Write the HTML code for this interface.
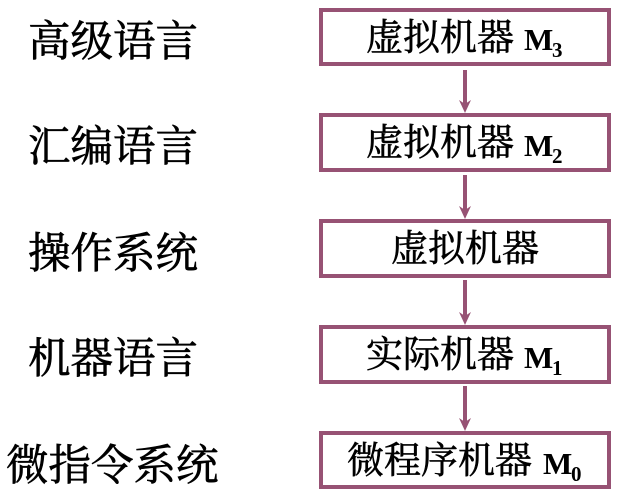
<!DOCTYPE html>
<html><head><meta charset="utf-8"><style>
html,body{margin:0;padding:0;background:#fff}
svg{display:block}
text{font-family:"Liberation Serif","Noto Serif CJK SC",serif;fill:#000}
.l{font-size:42.5px;stroke:#000;stroke-width:.7px}
.b{font-size:37px;stroke:#000;stroke-width:.6px}
.m{font-size:31px;font-weight:bold}
.s{font-size:21px;font-weight:bold}
rect{fill:#fff;stroke:#975274;stroke-width:4}
path{stroke:#975274;stroke-width:4;fill:none}
polygon{fill:#975274}
</style></head><body>
<svg width="618" height="501" viewBox="0 0 618 501" xmlns="http://www.w3.org/2000/svg">
<rect x="321" y="10" width="288" height="54"/>
<rect x="321" y="115" width="288" height="55"/>
<rect x="321" y="221" width="288" height="55"/>
<rect x="321" y="327" width="288" height="55"/>
<rect x="321" y="433" width="288" height="54"/>
<path d="M465 70V106"/><polygon points="459,100 465,104 471,100 465,113"/>
<path d="M465 175V212"/><polygon points="459,206 465,210 471,206 465,219"/>
<path d="M465 280V318"/><polygon points="459,312 465,316 471,312 465,325"/>
<path d="M465 386V424"/><polygon points="459,418 465,422 471,418 465,431"/>
<text class="l" x="28" y="56">高级语言</text>
<text class="l" x="28" y="161">汇编语言</text>
<text class="l" x="28" y="268">操作系统</text>
<text class="l" x="28" y="373">机器语言</text>
<text class="l" x="6" y="480">微指令系统</text>
<text class="b" x="366" y="50">虚拟机器</text><text class="m" x="524" y="50">M</text><text class="s" x="552" y="57">3</text>
<text class="b" x="366" y="155">虚拟机器</text><text class="m" x="524" y="156">M</text><text class="s" x="552" y="163">2</text>
<text class="b" x="391" y="261">虚拟机器</text>
<text class="b" x="366" y="367">实际机器</text><text class="m" x="524" y="368">M</text><text class="s" x="552" y="375">1</text>
<text class="b" x="347" y="473">微程序机器</text><text class="m" x="543" y="474">M</text><text class="s" x="571" y="481">0</text>
</svg>
</body></html>
